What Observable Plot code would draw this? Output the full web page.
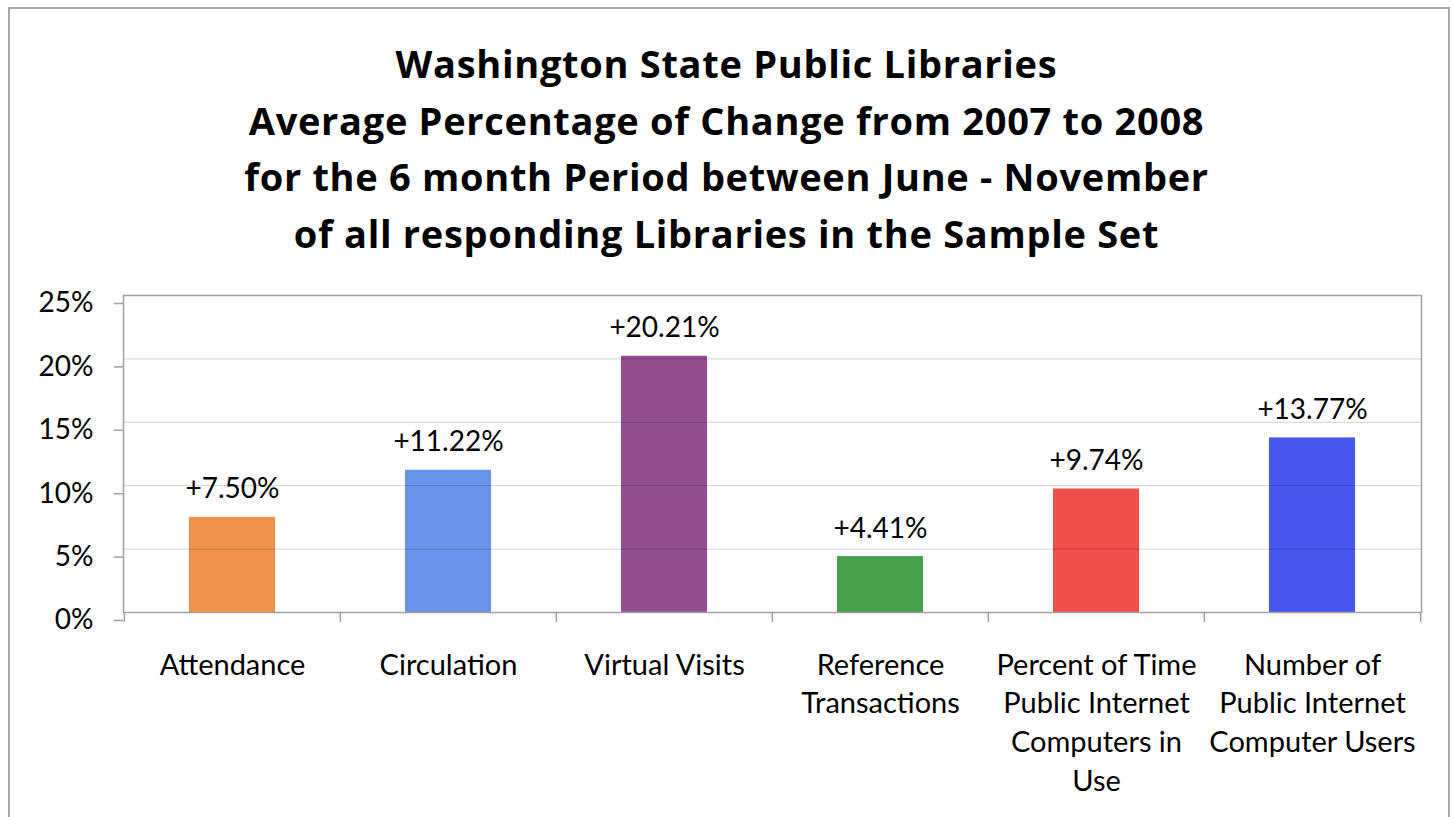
<!DOCTYPE html>
<html>
<head>
<meta charset="utf-8">
<script src="https://cdn.jsdelivr.net/npm/d3@7"></script>
<script src="https://cdn.jsdelivr.net/npm/@observablehq/plot@0.6"></script>
<style>
  html, body { margin: 0; padding: 0; background: #fff; width: 1453px; height: 817px; overflow: hidden; }
  #border { position: absolute; left: 8px; top: 7px; width: 1442px; height: 840px; border: 2px solid #a8a8a8; box-sizing: border-box; }
  #title { position: absolute; left: 0; top: 35px; width: 1453px; text-align: center; font-family: "Open Sans", sans-serif; font-weight: bold; font-size: 38px; letter-spacing: 0.7px; line-height: 56.5px; color: #000; }
  #chart { position: absolute; left: 0; top: 270px; }
</style>
</head>
<body>
<div id="border"></div>
<div id="title"></div>
<div id="chart"></div>
<script>
const titleLines = [
  "Washington State Public Libraries",
  "Average Percentage of Change from 2007 to 2008",
  "for the 6 month Period between June - November",
  "of all responding Libraries in the Sample Set"
];
const categories = [
  "Attendance",
  "Circulation",
  "Virtual Visits",
  "Reference Transactions",
  "Percent of Time Public Internet Computers in Use",
  "Number of Public Internet Computer Users"
];
const categoryLabels = [
  "Attendance",
  "Circulation",
  "Virtual Visits",
  "Reference\nTransactions",
  "Percent of Time\nPublic Internet\nComputers in\nUse",
  "Number of\nPublic Internet\nComputer Users"
];
const values = [7.50, 11.22, 20.21, 4.41, 9.74, 13.77];
const valueLabels = ["+7.50%", "+11.22%", "+20.21%", "+4.41%", "+9.74%", "+13.77%"];
const colors = ["#F0914A", "#6A93EC", "#924E8F", "#47A04A", "#F04F4B", "#4756EC"];
const yTicks = [0, 5, 10, 15, 20, 25];

document.getElementById("title").innerHTML = titleLines.map(t => `<div>${t}</div>`).join("");

const data = categories.map((c, i) => ({category: c, value: values[i], label: valueLabels[i]}));
const labelOf = new Map(categories.map((c, i) => [c, categoryLabels[i]]));

const W = 1453, H = 547, mL = 123, mR = 32;
const bw = (W - mL - mR) / categories.length;
const axisGray = "#a0a0a0";

const chart = Plot.plot({
  width: W,
  height: H,
  marginLeft: mL,
  marginRight: mR,
  marginTop: 25,
  marginBottom: 205,
  style: {fontFamily: "Lato, sans-serif", fontSize: "29px", color: "#000", background: "transparent"},
  x: {type: "band", domain: categories, padding: 0},
  y: {domain: [0, 25]},
  color: {domain: categories, range: colors},
  marks: [
    Plot.barY(data, {x: "category", y: "value", fill: "category", insetLeft: 65, insetRight: 65}),
    Plot.gridY(yTicks, {stroke: "#000", strokeOpacity: 0.18}),
    Plot.frame({stroke: axisGray, strokeWidth: 1.5}),
    Plot.ruleX(categories, {x: d => d, y1: 0, y2: 0, insetBottom: -10, dx: -bw / 2, stroke: axisGray, strokeWidth: 1.5}),
    Plot.ruleX(categories.slice(-1), {x: d => d, y1: 0, y2: 0, insetBottom: -10, dx: bw / 2, stroke: axisGray, strokeWidth: 1.5}),
    Plot.axisY({ticks: yTicks, tickFormat: d => d + "%", tickSize: 9, tickPadding: 21, dy: 8, stroke: axisGray, strokeWidth: 1.5, fontSize: 28, label: null}),
    Plot.axisX({tickSize: 0, tickPadding: 35, tickFormat: d => labelOf.get(d), lineHeight: 1.33, fontSize: 29, label: null}),
    Plot.text(data, {x: "category", y: "value", text: "label", dy: -28, fontSize: 28, fill: "#000"})
  ]
});
document.getElementById("chart").appendChild(chart);
</script>
</body>
</html>
